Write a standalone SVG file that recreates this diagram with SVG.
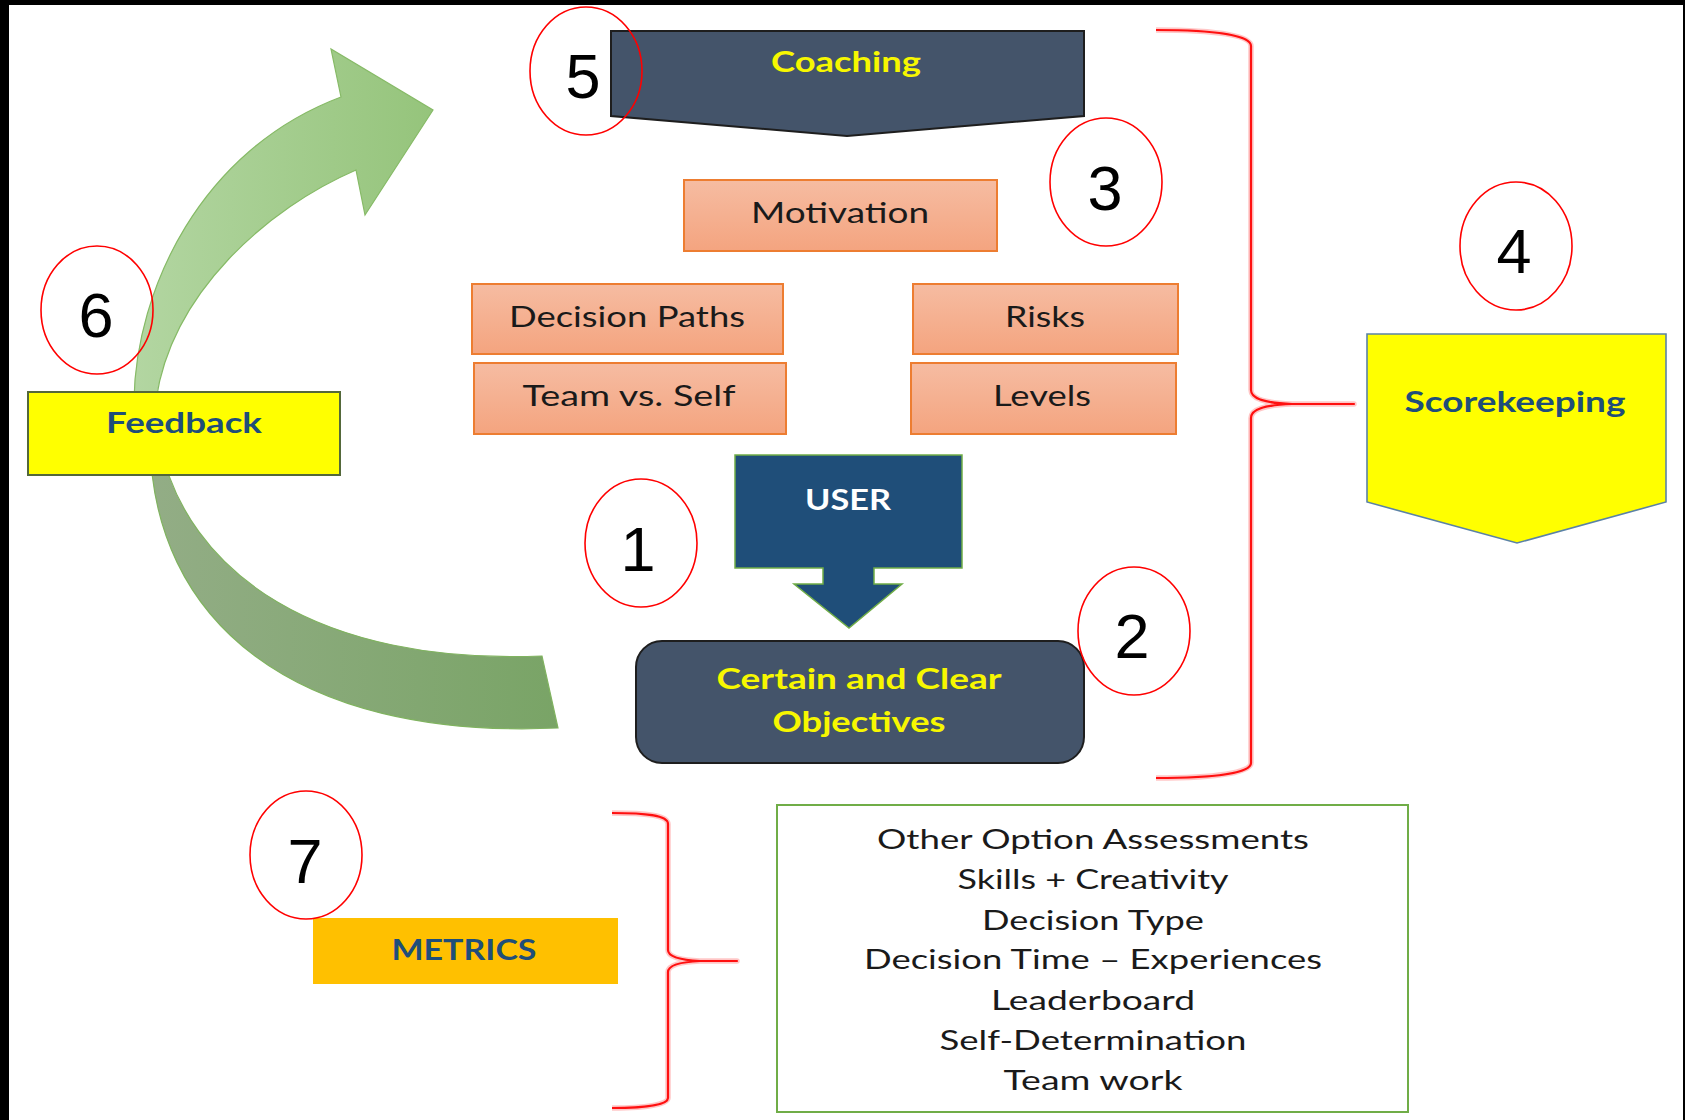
<svg xmlns="http://www.w3.org/2000/svg" width="1685" height="1120" viewBox="0 0 1685 1120">
  <defs>
    <linearGradient id="gradOrange" x1="0" y1="0" x2="0" y2="1">
      <stop offset="0" stop-color="#f6bca2"/>
      <stop offset="1" stop-color="#f4a47f"/>
    </linearGradient>
    <linearGradient id="gradArrowLight" gradientUnits="userSpaceOnUse" x1="130" y1="0" x2="435" y2="0">
      <stop offset="0" stop-color="#b3d6a2"/>
      <stop offset="1" stop-color="#95c47b"/>
    </linearGradient>
    <linearGradient id="gradArrowDark" gradientUnits="userSpaceOnUse" x1="148" y1="0" x2="560" y2="0">
      <stop offset="0" stop-color="#93ad86"/>
      <stop offset="1" stop-color="#79a466"/>
    </linearGradient>
  </defs>
  <style>
    .frame { fill: #000; }
    .orange { fill: url(#gradOrange); stroke: #ed7d31; stroke-width: 2; }
    .slate { fill: #44546a; stroke: #1e1e1e; stroke-width: 2; }
    .label { font-family: Lato, "Open Sans", "Liberation Sans", sans-serif; font-size: 28px; fill: #1a1a1a; text-anchor: middle; }
    .bold { font-weight: 700; }
    .yellowText { fill: #f7f700; }
    .blueText { fill: #1f4e79; }
    .whiteText { fill: #ffffff; }
    .list { font-family: Lato, "Open Sans", "Liberation Sans", sans-serif; font-size: 27px; fill: #1a1a1a; text-anchor: middle; }
    .badge { fill: none; stroke: #ff0000; stroke-width: 1.6; }
    .digit { font-family: "Liberation Sans", Arial, sans-serif; font-size: 63px; fill: #000; text-anchor: middle; }
    .braceHalo { fill: none; stroke: #ff0000; stroke-opacity: 0.22; stroke-width: 5.5; stroke-linejoin: round; }
    .brace { fill: none; stroke: #ff1010; stroke-width: 2.2; stroke-linejoin: round; }
  </style>

  <rect width="1685" height="1120" fill="#ffffff"/>
  <!-- outer frame -->
  <rect class="frame" x="0" y="0" width="1685" height="5"/>
  <rect class="frame" x="0" y="0" width="9" height="1120"/>
  <rect class="frame" x="1683" y="0" width="2" height="1120"/>

  <g id="connectors">
    <!-- curved feedback arrow: darker underside band -->
    <path id="loop-back" d="M150,440 C152,620 292,740 558,728 L542,656 C320,665 186,575 159,440 Z" fill="url(#gradArrowDark)" stroke="#80b360" stroke-width="1.2"/>
    <!-- curved feedback arrow: lighter front band with head -->
    <path id="loop-front" d="M134,400 C136,290 200,150 341,97 L331,49 L433,110 L365,215 L356,170 C268,208 172,292 156,400 Z" fill="url(#gradArrowLight)" stroke="#86ba66" stroke-width="1.2"/>

    <!-- brace gathering the central block -->
    <path class="braceHalo" d="M1156,30 C1215,30 1251,35 1251,46 L1251,390 C1251,399 1265,403 1292,404 L1354,404 L1292,404 C1265,405 1251,409 1251,418 L1251,763 C1251,773 1215,778 1156,778"/>
    <path class="brace" d="M1156,30 C1215,30 1251,35 1251,46 L1251,390 C1251,399 1265,403 1292,404 L1354,404 L1292,404 C1265,405 1251,409 1251,418 L1251,763 C1251,773 1215,778 1156,778"/>

    <!-- brace gathering the metrics list -->
    <path class="braceHalo" d="M612,813 C645,813 668,815 668,824 L668,950 C668,957 680,960 700,961 L737,961 L700,961 C680,962 668,965 668,972 L668,1098 C668,1105 645,1108 612,1108"/>
    <path class="brace" d="M612,813 C645,813 668,815 668,824 L668,950 C668,957 680,960 700,961 L737,961 L700,961 C680,962 668,965 668,972 L668,1098 C668,1105 645,1108 612,1108"/>
  </g>

  <g id="coaching">
    <path class="slate" d="M611,31 L1084,31 L1084,116 L847,136 L611,116 Z"/>
    <text class="label bold yellowText" x="846" y="72" font-size="27" textLength="150" lengthAdjust="spacingAndGlyphs">Coaching</text>
  </g>

  <g id="motivation">
    <rect class="orange" x="684" y="180" width="313" height="71"/>
    <text class="label" x="840" y="223" textLength="178" lengthAdjust="spacingAndGlyphs">Motivation</text>
  </g>

  <g id="decision-paths">
    <rect class="orange" x="472" y="284" width="311" height="70"/>
    <text class="label" x="627" y="327" textLength="236" lengthAdjust="spacingAndGlyphs">Decision Paths</text>
  </g>

  <g id="risks">
    <rect class="orange" x="913" y="284" width="265" height="70"/>
    <text class="label" x="1045" y="327" textLength="80" lengthAdjust="spacingAndGlyphs">Risks</text>
  </g>

  <g id="team-vs-self">
    <rect class="orange" x="474" y="363" width="312" height="71"/>
    <text class="label" x="629" y="406" textLength="213" lengthAdjust="spacingAndGlyphs">Team vs. Self</text>
  </g>

  <g id="levels">
    <rect class="orange" x="911" y="363" width="265" height="71"/>
    <text class="label" x="1042" y="406" textLength="98" lengthAdjust="spacingAndGlyphs">Levels</text>
  </g>

  <g id="user">
    <path d="M735,455 L962,455 L962,568 L874,568 L874,584 L902,584 L849,628 L794,584 L823,584 L823,568 L735,568 Z" fill="#1f4e79" stroke="#70ad47" stroke-width="1.5"/>
    <text class="label bold whiteText" x="848" y="510" textLength="86" lengthAdjust="spacingAndGlyphs">USER</text>
  </g>

  <g id="objectives">
    <rect class="slate" x="636" y="641" width="448" height="122" rx="26" ry="26"/>
    <text class="label bold yellowText" x="859" y="689" font-size="27" textLength="285" lengthAdjust="spacingAndGlyphs">Certain and Clear</text>
    <text class="label bold yellowText" x="859" y="732" font-size="27" textLength="173" lengthAdjust="spacingAndGlyphs">Objectives</text>
  </g>

  <g id="feedback">
    <rect x="28" y="392" width="312" height="83" fill="#ffff00" stroke="#53683a" stroke-width="2"/>
    <text class="label bold blueText" x="184" y="433" font-size="28" textLength="156" lengthAdjust="spacingAndGlyphs">Feedback</text>
  </g>

  <g id="scorekeeping">
    <path d="M1367,334 L1666,334 L1666,502 L1517,543 L1367,502 Z" fill="#ffff00" stroke="#5b82a6" stroke-width="1.6"/>
    <text class="label bold blueText" x="1515" y="412" font-size="27" textLength="221" lengthAdjust="spacingAndGlyphs">Scorekeeping</text>
  </g>

  <g id="metrics">
    <rect x="313" y="918" width="305" height="66" fill="#ffc000"/>
    <text class="label bold blueText" x="464" y="960" font-size="27" textLength="145" lengthAdjust="spacingAndGlyphs">METRICS</text>
  </g>

  <g id="metrics-list">
    <rect x="777" y="805" width="631" height="307" fill="#ffffff" stroke="#70ad47" stroke-width="2"/>
    <text class="list" x="1093" y="849" textLength="432" lengthAdjust="spacingAndGlyphs">Other Option Assessments</text>
    <text class="list" x="1093" y="889" textLength="271" lengthAdjust="spacingAndGlyphs">Skills + Creativity</text>
    <text class="list" x="1093" y="930" textLength="222" lengthAdjust="spacingAndGlyphs">Decision Type</text>
    <text class="list" x="1093" y="969" textLength="458" lengthAdjust="spacingAndGlyphs">Decision Time – Experiences</text>
    <text class="list" x="1093" y="1010" textLength="204" lengthAdjust="spacingAndGlyphs">Leaderboard</text>
    <text class="list" x="1093" y="1050" textLength="307" lengthAdjust="spacingAndGlyphs">Self-Determination</text>
    <text class="list" x="1093" y="1090" textLength="179" lengthAdjust="spacingAndGlyphs">Team work</text>
  </g>

  <!-- numbered badges -->
  <g id="badge-1">
    <ellipse class="badge" cx="641" cy="543" rx="56" ry="64"/>
    <text class="digit" x="638" y="571">1</text>
  </g>
  <g id="badge-2">
    <ellipse class="badge" cx="1134" cy="631" rx="56" ry="64"/>
    <text class="digit" x="1132" y="658">2</text>
  </g>
  <g id="badge-3">
    <ellipse class="badge" cx="1106" cy="182" rx="56" ry="64"/>
    <text class="digit" x="1105" y="210">3</text>
  </g>
  <g id="badge-4">
    <ellipse class="badge" cx="1516" cy="246" rx="56" ry="64"/>
    <text class="digit" x="1514" y="273">4</text>
  </g>
  <g id="badge-5">
    <ellipse class="badge" cx="586" cy="71" rx="56" ry="64"/>
    <text class="digit" x="583" y="98">5</text>
  </g>
  <g id="badge-6">
    <ellipse class="badge" cx="97" cy="310" rx="56" ry="64"/>
    <text class="digit" x="96" y="337">6</text>
  </g>
  <g id="badge-7">
    <ellipse class="badge" cx="306" cy="855" rx="56" ry="64"/>
    <text class="digit" x="305" y="883">7</text>
  </g>
</svg>
